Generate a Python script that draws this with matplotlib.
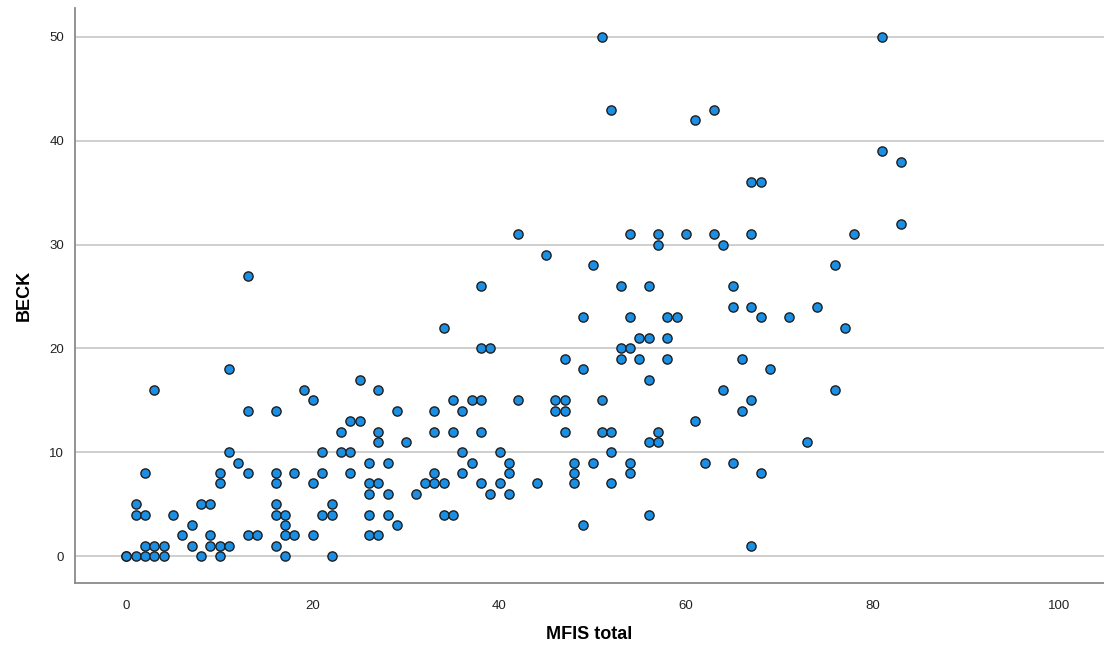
import matplotlib
matplotlib.use("Agg")
import matplotlib.pyplot as plt

# MFIS total (x) vs BECK (y)
mfis = [
    3, 11, 13, 16, 19, 11, 12, 2, 13, 10, 10, 16, 16, 18, 1, 1, 2, 5, 8, 9,
    16, 16, 17, 7, 17, 6, 9, 13, 14, 17, 18, 2, 3, 4, 7, 9, 10, 11, 16,
    0, 0, 1, 2, 3, 4, 8, 10, 17,
    20, 25, 27, 29, 33, 35, 36, 37, 38, 24, 25, 23, 27, 27, 30, 33, 35, 38,
    21, 23, 24, 36, 26, 28, 37, 21, 24, 33, 36, 20, 26, 27, 32, 33, 34, 38,
    26, 28, 31, 39, 22, 21, 22, 26, 28, 34, 35, 29, 20, 26, 27, 22,
    49, 56, 42, 46, 47, 46, 47, 51, 47, 51, 52, 57, 56, 57, 40, 52, 41, 41,
    48, 48, 48, 50, 54, 54, 40, 44, 52, 41, 49, 56,
    69, 64, 76, 67, 66, 61, 73, 62, 65, 68, 67,
    13, 42, 54, 57, 57, 60, 45, 50, 38, 53, 56, 49, 54, 58, 59, 34, 55, 56,
    58, 38, 39, 53, 54, 47, 53, 55, 58,
    81, 61, 63, 81, 83, 67, 68, 63, 67, 78, 83, 64, 76, 65, 65, 67, 74, 68,
    71, 77, 66, 51, 52,
]
beck = [
    16, 18, 14, 14, 16, 10, 9, 8, 8, 8, 7, 8, 7, 8, 5, 4, 4, 4, 5, 5,
    5, 4, 4, 3, 3, 2, 2, 2, 2, 2, 2, 1, 1, 1, 1, 1, 1, 1, 1,
    0, 0, 0, 0, 0, 0, 0, 0, 0,
    15, 17, 16, 14, 14, 15, 14, 15, 15, 13, 13, 12, 12, 11, 11, 12, 12, 12,
    10, 10, 10, 10, 9, 9, 9, 8, 8, 8, 8, 7, 7, 7, 7, 7, 7, 7,
    6, 6, 6, 6, 5, 4, 4, 4, 4, 4, 4, 3, 2, 2, 2, 0,
    18, 17, 15, 15, 15, 14, 14, 15, 12, 12, 12, 12, 11, 11, 10, 10, 9, 8,
    9, 8, 7, 9, 9, 8, 7, 7, 7, 6, 3, 4,
    18, 16, 16, 15, 14, 13, 11, 9, 9, 8, 1,
    27, 31, 31, 31, 30, 31, 29, 28, 26, 26, 26, 23, 23, 23, 23, 22, 21, 21,
    21, 20, 20, 20, 20, 19, 19, 19, 19,
    50, 42, 43, 39, 38, 36, 36, 31, 31, 31, 32, 30, 28, 26, 24, 24, 24, 23,
    23, 22, 19, 50, 43,
]

x_ticks = [0, 20, 40, 60, 80, 100]
y_ticks = [0, 10, 20, 30, 40, 50]

plt.rcParams["font.family"] = ["Liberation Sans", "DejaVu Sans"]

fig = plt.figure(figsize=(11.04, 6.53), dpi=100)
ax = fig.add_axes([0.068, 0.107, 0.932, 0.881])

ax.set_axisbelow(True)
for yt in y_ticks:
    ax.axhline(yt, color="#cccccc", linewidth=1.3, zorder=0)

ax.scatter(mfis, beck, s=44, c="#1a8fe3", edgecolors="#1e1e1e",
           linewidths=1.0, zorder=3)

ax.set_xlim(-5.5, 104.8)
ax.set_ylim(-2.6, 52.8)
ax.set_xticks(x_ticks)
ax.set_yticks(y_ticks)
ax.tick_params(length=0, labelsize=9.5, colors="#222222")
ax.tick_params(axis="x", pad=12)
ax.tick_params(axis="y", pad=8)

for side in ("top", "right"):
    ax.spines[side].set_visible(False)
for side in ("left", "bottom"):
    ax.spines[side].set_color("#8a8a8a")
    ax.spines[side].set_linewidth(1.3)

ax.set_xlabel("MFIS total", fontsize=13, fontweight="bold", labelpad=10)
ax.set_ylabel("BECK", fontsize=13, fontweight="bold", labelpad=12)

fig.savefig("out.png", dpi=100)
